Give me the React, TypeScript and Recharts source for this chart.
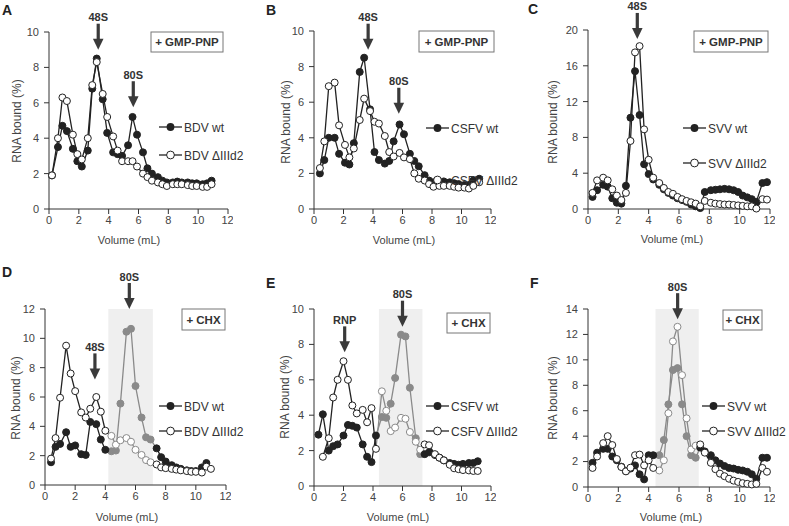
import React from "react";
import { LineChart, Line, XAxis, YAxis, ReferenceArea, ReferenceDot } from "recharts";

const FONT = "'Liberation Sans', Arial, Helvetica, sans-serif";
const DARK = "#222222";
const GRAY = "#8a8a8a";
const SHADE = "#efefef";
const ARROW = "#3a3a3a";
const TEXT = "#333333";
const R = 3.5;
const X_TICKS = [0, 2, 4, 6, 8, 10, 12];

// ---- A: BDV + GMP-PNP
const volA = [0.2, 0.6, 0.9, 1.2, 1.6, 1.9, 2.2, 2.6, 2.9, 3.2, 3.6, 3.9, 4.3, 4.6, 4.9, 5.3, 5.6, 5.9, 6.3, 6.6, 6.9, 7.3, 7.6, 7.9, 8.3, 8.6, 8.9, 9.3, 9.6, 9.9, 10.3, 10.6, 10.9];
const bdvWtA = [1.9, 3.5, 4.7, 4.4, 3.4, 2.7, 2.4, 3.3, 6.8, 8.5, 6.2, 4.3, 3.2, 3.1, 3.0, 3.6, 5.2, 4.2, 3.2, 2.3, 2.0, 1.8, 1.6, 1.5, 1.5, 1.55, 1.5, 1.5, 1.45, 1.45, 1.4, 1.45, 1.6];
const bdvMutA = [1.9, 4.0, 6.3, 6.1, 4.2, 3.1, 2.8, 4.0, 7.0, 8.3, 6.5, 5.2, 4.1, 3.3, 2.7, 2.7, 2.7, 2.4, 2.0, 1.8, 1.6, 1.5, 1.4, 1.3, 1.4, 1.4, 1.4, 1.35, 1.3, 1.3, 1.25, 1.25, 1.4];

// ---- B: CSFV + GMP-PNP
const volB = [0.4, 0.7, 1.0, 1.4, 1.7, 2.1, 2.4, 2.7, 3.1, 3.4, 3.8, 4.1, 4.4, 4.8, 5.1, 5.4, 5.8, 6.1, 6.5, 6.8, 7.1, 7.5, 7.8, 8.1, 8.5, 8.8, 9.2, 9.5, 9.8, 10.2, 10.5, 10.8, 11.2];
const csfvWtB = [2.0, 2.75, 4.0, 4.0, 3.1, 2.6, 2.5, 3.7, 7.7, 8.5, 5.6, 3.2, 2.75, 2.55, 2.7, 3.8, 4.75, 4.2, 3.1, 2.7, 2.4, 1.9, 1.6, 1.5, 1.5, 1.55, 1.5, 1.45, 1.4, 1.35, 1.35, 1.6, 1.7];
const csfvMutB = [2.3, 3.8, 6.9, 7.1, 4.7, 3.6, 2.9, 3.4, 5.0, 6.2, 5.5, 4.9, 4.8, 4.1, 3.2, 2.95, 3.15, 2.9, 2.8, 2.0, 1.7, 1.6, 1.4, 1.25, 1.3, 1.3, 1.3, 1.25, 1.2, 1.2, 1.15, 1.3, 1.5];

// ---- C: SVV + GMP-PNP
const volC = [0.3, 0.6, 1.0, 1.3, 1.6, 1.9, 2.2, 2.5, 2.8, 3.1, 3.4, 3.7, 4.0, 4.3, 4.7, 5.0, 5.3, 5.6, 5.9, 6.2, 6.5, 6.8, 7.1, 7.4, 7.7, 8.1, 8.4, 8.7, 9.0, 9.3, 9.6, 9.9, 10.2, 10.5, 10.8, 11.1, 11.5, 11.8];
const svvWtC = [1.35, 2.1, 2.7, 2.5, 1.2, 0.7, 0.6, 2.6, 10.2, 15.4, 10.5, 5.0, 3.9, 3.3, 2.7, 2.2, 1.8, 1.5, 1.2, 1.0, 0.8, 0.5, 0.3, 0.1, 1.9, 2.1, 2.15, 2.2, 2.25, 2.2, 2.1, 1.9, 1.5, 1.3, 1.1, 0.8, 2.9, 3.0];
const svvMutC = [1.8, 3.2, 3.5, 3.2, 2.2, 1.5, 1.0, 1.8, 7.6, 17.5, 18.2, 8.9, 5.5, 3.5, 2.9, 2.35, 1.9, 1.7, 1.35, 1.1, 0.9, 0.75, 0.6, 0.3, 0.9, 0.7, 0.6, 0.55, 0.5, 0.5, 0.45, 0.4, 0.35, 0.3, 0.3, 0.05, 1.1, 1.05];

// ---- D: BDV + CHX
const volD = [0.4, 0.7, 1.0, 1.4, 1.7, 2.0, 2.4, 2.7, 3.0, 3.4, 3.7, 4.0, 4.4, 4.7, 5.0, 5.4, 5.7, 6.0, 6.4, 6.7, 7.0, 7.4, 7.7, 8.0, 8.4, 8.7, 9.0, 9.4, 9.7, 10.0, 10.4, 10.7, 11.0];
const bdvWtD = [1.55, 2.6, 2.8, 3.6, 2.6, 2.7, 2.1, 2.05, 4.3, 4.15, 3.1, 2.4, 2.3, 2.35, 5.55, 10.45, 10.65, 6.75, 4.6, 3.25, 3.1, 2.5, 1.9, 1.6, 1.35, 1.2, 1.1, 1.0, 0.95, 0.95, 1.2, 1.5, null];
const bdvMutD = [1.8, 3.2, 5.95, 9.5, 7.6, 6.4, 4.95, 4.6, 5.2, 6.0, 5.0, 3.7, 3.35, 2.75, 3.05, 3.2, 2.95, 2.4, 2.05, 1.7, 1.55, 1.4, 1.2, 1.15, 1.1, 1.05, 1.0, 0.95, 0.9, 0.9, 0.85, 1.25, 1.1];

// ---- E: CSFV + CHX
const volE = [0.3, 0.6, 1.0, 1.3, 1.6, 2.0, 2.3, 2.6, 2.9, 3.3, 3.6, 3.9, 4.2, 4.6, 4.9, 5.2, 5.5, 5.9, 6.2, 6.5, 6.9, 7.2, 7.5, 7.8, 8.2, 8.5, 8.8, 9.2, 9.5, 9.8, 10.1, 10.5, 10.8, 11.1];
const csfvWtE = [2.9, 4.05, 2.0, 2.25, 2.35, 2.85, 3.45, 3.4, 3.3, 2.35, 1.65, 1.35, 2.85, 3.9, 3.85, 4.65, 6.1, 8.55, 8.45, 5.55, 2.7, 1.8, 1.8, 1.9, 1.75, 1.6, 1.45, 1.3, 1.25, 1.2, 1.25, 1.3, 1.3, 1.4];
const csfvMutE = [null, 1.65, 2.7, 5.0, 6.0, 7.05, 6.0, 4.55, 4.1, 4.3, 3.6, 4.4, 2.1, 5.35, 4.25, 3.1, 3.3, 3.85, 3.8, 3.05, 2.5, 2.05, 2.35, 2.3, 1.8, 1.6, 1.45, 1.2, 1.0, 0.95, 0.9, 0.88, 0.85, 0.85];

// ---- F: SVV + CHX
const volF = [0.3, 0.6, 1.0, 1.3, 1.6, 1.9, 2.2, 2.5, 2.8, 3.1, 3.4, 3.7, 4.0, 4.3, 4.7, 5.0, 5.3, 5.6, 5.9, 6.2, 6.5, 6.8, 7.1, 7.4, 7.7, 8.1, 8.4, 8.7, 9.0, 9.3, 9.6, 9.9, 10.2, 10.5, 10.8, 11.1, 11.5, 11.8];
const svvWtF = [1.9, 2.7, 3.0, 3.0, 2.4, 2.1, 1.6, 1.25, 1.45, 1.7, 1.0, 0.6, 2.5, 2.5, 2.5, 3.7, 6.5, 9.2, 9.35, 6.5, 4.0, 2.5, 2.3, 3.1, 2.8, 2.5, 2.1, 1.85, 1.65, 1.5, 1.45, 1.35, 1.3, 1.2, 1.0, 0.65, 2.3, 2.3];
const svvMutF = [1.5, 2.4, 3.45, 4.0, 3.3, 2.2, 1.57, 1.23, 1.52, 2.5, 2.55, 1.7, 2.1, 1.5, 1.3, 2.1, 5.8, 11.45, 12.6, 8.8, 5.4, 2.95, 3.25, 3.35, 2.7, 1.9, 1.4, 1.05, 0.85, 0.65, 0.5, 0.4, 0.3, 0.25, 0.2, 0.25, 1.5, 1.2];

type Val = number | null;
type Arrow = { x: number; y: number; label: string };
type Plot = { x0: number; x1: number; y0: number; y1: number };

type PanelProps = {
  letter: string;
  letterPos: [number, number];
  vol: number[];
  wt: Val[];
  mut: Val[];
  wtName: string;
  mutName: string;
  yMax: number;
  yTicks: number[];
  plot: Plot;
  shade?: [number, number];
  arrows: Arrow[];
  box: { label: string; x: number; y: number; w: number; h: number };
  legend: { x: number; y1: number; y2: number };
  yTitle: [number, number];
  xTitle: [number, number];
};

const arrowShape = (label: string) => (p: any) => {
  const { cx, cy } = p;
  return (
    <g>
      <text x={cx} y={cy - 28.5} textAnchor="middle" fontFamily={FONT} fontWeight="bold" fontSize={11} fill={TEXT}>
        {label}
      </text>
      <rect x={cx - 1.6} y={cy - 26} width={3.2} height={16} fill={ARROW} />
      <polygon points={`${cx - 5.3},${cy - 11} ${cx + 5.3},${cy - 11} ${cx},${cy}`} fill={ARROW} />
    </g>
  );
};

function Panel(props: PanelProps) {
  const { vol, wt, mut, plot, shade, yMax } = props;
  const isIn = (v: number | undefined) => !!shade && v != null && v >= shade[0] && v <= shade[1];
  const rows = vol.map((v, i) => {
    const near = isIn(v) || isIn(vol[i - 1]) || isIn(vol[i + 1]);
    return {
      v,
      wtOut: isIn(v) ? null : wt[i],
      mutOut: isIn(v) ? null : mut[i],
      wtIn: near ? wt[i] : null,
      mutIn: near ? mut[i] : null,
    };
  });

  const inDot = (open: boolean) => (p: any) => {
    const { cx, cy, index, payload } = p;
    if (cx == null || cy == null || payload == null || !isIn(payload.v)) return <g key={`n${index}`} />;
    return <circle key={`d${index}`} cx={cx} cy={cy} r={R} fill={open ? "#ffffff" : GRAY} stroke={GRAY} strokeWidth={1} />;
  };

  const padL = 45;
  const padT = 45;
  const left = plot.x0 - padL;
  const top = plot.y0 - padT;
  const width = plot.x1 - plot.x0 + padL + 5;
  const height = plot.y1 - plot.y0 + padT + 30;
  const { legend, box } = props;

  return (
    <>
      <div style={{ position: "absolute", left, top, width, height }}>
        <LineChart width={width} height={height} data={rows} margin={{ top: padT, right: 5, bottom: 0, left: 0 }}>
          {shade && (
            <ReferenceArea x1={shade[0]} x2={shade[1]} y1={0} y2={yMax} fill={SHADE} fillOpacity={1} stroke="none" ifOverflow="visible" />
          )}
          <XAxis
            dataKey="v"
            type="number"
            domain={[0, 12]}
            ticks={X_TICKS}
            height={30}
            tickSize={5}
            tickMargin={2}
            stroke="#333"
            tick={{ fill: "#444", fontSize: 11, fontFamily: FONT }}
          />
          <YAxis
            type="number"
            domain={[0, yMax]}
            ticks={props.yTicks}
            width={padL}
            tickSize={5}
            tickMargin={5}
            stroke="#333"
            tick={{ fill: "#444", fontSize: 11, fontFamily: FONT }}
          />
          {shade && (
            <Line dataKey="wtIn" stroke={GRAY} strokeWidth={1.3} dot={inDot(false)} activeDot={false} isAnimationActive={false} />
          )}
          {shade && (
            <Line dataKey="mutIn" stroke={GRAY} strokeWidth={1.3} dot={inDot(true)} activeDot={false} isAnimationActive={false} />
          )}
          <Line
            dataKey="wtOut"
            stroke={DARK}
            strokeWidth={1.3}
            dot={{ r: R, fill: DARK, stroke: DARK, strokeWidth: 1 }}
            activeDot={false}
            isAnimationActive={false}
          />
          <Line
            dataKey="mutOut"
            stroke={DARK}
            strokeWidth={1.3}
            dot={{ r: R, fill: "#ffffff", stroke: DARK, strokeWidth: 1 }}
            activeDot={false}
            isAnimationActive={false}
          />
          {props.arrows.map((a) => (
            <ReferenceDot key={a.label} x={a.x} y={a.y} ifOverflow="visible" shape={arrowShape(a.label)} />
          ))}
        </LineChart>
      </div>
      <svg width={789} height={526} style={{ position: "absolute", left: 0, top: 0, pointerEvents: "none" }}>
        <text x={props.letterPos[0]} y={props.letterPos[1]} fontFamily={FONT} fontWeight="bold" fontSize={14} fill="#222">
          {props.letter}
        </text>
        <rect x={box.x} y={box.y} width={box.w} height={box.h} fill="#fff" stroke="#777" strokeWidth={1} />
        <text x={box.x + box.w / 2} y={box.y + box.h / 2 + 4} textAnchor="middle" fontFamily={FONT} fontWeight="bold" fontSize={11.5} fill={TEXT}>
          {box.label}
        </text>
        <line x1={legend.x} x2={legend.x + 23} y1={legend.y1} y2={legend.y1} stroke={DARK} strokeWidth={1.3} />
        <circle cx={legend.x + 11.5} cy={legend.y1} r={R + 0.4} fill={DARK} />
        <text x={legend.x + 25} y={legend.y1 + 4.5} fontFamily={FONT} fontSize={12} fill={TEXT}>
          {props.wtName}
        </text>
        <line x1={legend.x} x2={legend.x + 23} y1={legend.y2} y2={legend.y2} stroke={DARK} strokeWidth={1.3} />
        <circle cx={legend.x + 11.5} cy={legend.y2} r={R + 0.4} fill="#fff" stroke={DARK} strokeWidth={1} />
        <text x={legend.x + 25} y={legend.y2 + 4.5} fontFamily={FONT} fontSize={12} fill={TEXT}>
          {props.mutName}
        </text>
        <text
          x={props.yTitle[0]}
          y={props.yTitle[1]}
          transform={`rotate(-90 ${props.yTitle[0]} ${props.yTitle[1]})`}
          textAnchor="middle"
          dominantBaseline="middle"
          fontFamily={FONT}
          fontSize={12}
          fill="#444"
        >
          RNA bound (%)
        </text>
        <text x={props.xTitle[0]} y={props.xTitle[1] + 4} textAnchor="middle" fontFamily={FONT} fontSize={11} fill="#444">
          Volume (mL)
        </text>
      </svg>
    </>
  );
}

export default function App() {
  return (
    <div style={{ position: "absolute", left: 0, top: 0, width: 789, height: 526, background: "#fff", overflow: "hidden" }}>
      <Panel
        letter="A"
        letterPos={[2, 15]}
        vol={volA}
        wt={bdvWtA}
        mut={bdvMutA}
        wtName="BDV wt"
        mutName="BDV ΔIIId2"
        yMax={10}
        yTicks={[0, 2, 4, 6, 8, 10]}
        plot={{ x0: 49, x1: 228, y0: 32, y1: 209 }}
        arrows={[
          { x: 3.3, y: 9.0, label: "48S" },
          { x: 5.65, y: 5.75, label: "80S" },
        ]}
        box={{ label: "+ GMP-PNP", x: 151, y: 32, w: 72, h: 20 }}
        legend={{ x: 159, y1: 127, y2: 155 }}
        yTitle={[18, 121]}
        xTitle={[129, 240]}
      />
      <Panel
        letter="B"
        letterPos={[266, 15]}
        vol={volB}
        wt={csfvWtB}
        mut={csfvMutB}
        wtName="CSFV wt"
        mutName="CSFV ΔIIId2"
        yMax={10}
        yTicks={[0, 2, 4, 6, 8, 10]}
        plot={{ x0: 314, x1: 491, y0: 31, y1: 209 }}
        arrows={[
          { x: 3.67, y: 8.95, label: "48S" },
          { x: 5.75, y: 5.35, label: "80S" },
        ]}
        box={{ label: "+ GMP-PNP", x: 419, y: 31, w: 75, h: 21 }}
        legend={{ x: 426, y1: 128, y2: 180 }}
        yTitle={[287, 122]}
        xTitle={[404, 240]}
      />
      <Panel
        letter="C"
        letterPos={[528, 14]}
        vol={volC}
        wt={svvWtC}
        mut={svvMutC}
        wtName="SVV wt"
        mutName="SVV ΔIIId2"
        yMax={20}
        yTicks={[0, 4, 8, 12, 16, 20]}
        plot={{ x0: 588, x1: 770, y0: 30, y1: 209 }}
        arrows={[{ x: 3.25, y: 19.0, label: "48S" }]}
        box={{ label: "+ GMP-PNP", x: 694, y: 31, w: 74, h: 21 }}
        legend={{ x: 683, y1: 128, y2: 163 }}
        yTitle={[554, 122]}
        xTitle={[672, 239]}
      />
      <Panel
        letter="D"
        letterPos={[2, 277]}
        vol={volD}
        wt={bdvWtD}
        mut={bdvMutD}
        wtName="BDV wt"
        mutName="BDV ΔIIId2"
        yMax={12}
        yTicks={[0, 2, 4, 6, 8, 10, 12]}
        plot={{ x0: 45, x1: 226, y0: 309, y1: 485 }}
        shade={[4.2, 7.15]}
        arrows={[
          { x: 5.59, y: 12.0, label: "80S" },
          { x: 3.31, y: 7.2, label: "48S" },
        ]}
        box={{ label: "+ CHX", x: 182, y: 309, w: 43, h: 21 }}
        legend={{ x: 159, y1: 406, y2: 431 }}
        yTitle={[17, 398]}
        xTitle={[127, 517]}
      />
      <Panel
        letter="E"
        letterPos={[266, 288]}
        vol={volE}
        wt={csfvWtE}
        mut={csfvMutE}
        wtName="CSFV wt"
        mutName="CSFV ΔIIId2"
        yMax={10}
        yTicks={[0, 2, 4, 6, 8, 10]}
        plot={{ x0: 314, x1: 491, y0: 309, y1: 486 }}
        shade={[4.4, 7.35]}
        arrows={[
          { x: 2.08, y: 7.55, label: "RNP" },
          { x: 6.0, y: 9.0, label: "80S" },
        ]}
        box={{ label: "+ CHX", x: 447, y: 313, w: 43, h: 20 }}
        legend={{ x: 426, y1: 406, y2: 431 }}
        yTitle={[286, 397]}
        xTitle={[398, 517]}
      />
      <Panel
        letter="F"
        letterPos={[530, 288]}
        vol={volF}
        wt={svvWtF}
        mut={svvMutF}
        wtName="SVV wt"
        mutName="SVV ΔIIId2"
        yMax={14}
        yTicks={[0, 2, 4, 6, 8, 10, 12, 14]}
        plot={{ x0: 588, x1: 770, y0: 309, y1: 487 }}
        shade={[4.45, 7.3]}
        arrows={[{ x: 5.91, y: 13.2, label: "80S" }]}
        box={{ label: "+ CHX", x: 723, y: 310, w: 39, h: 20 }}
        legend={{ x: 702, y1: 406, y2: 431 }}
        yTitle={[554, 398]}
        xTitle={[671, 517]}
      />
    </div>
  );
}
